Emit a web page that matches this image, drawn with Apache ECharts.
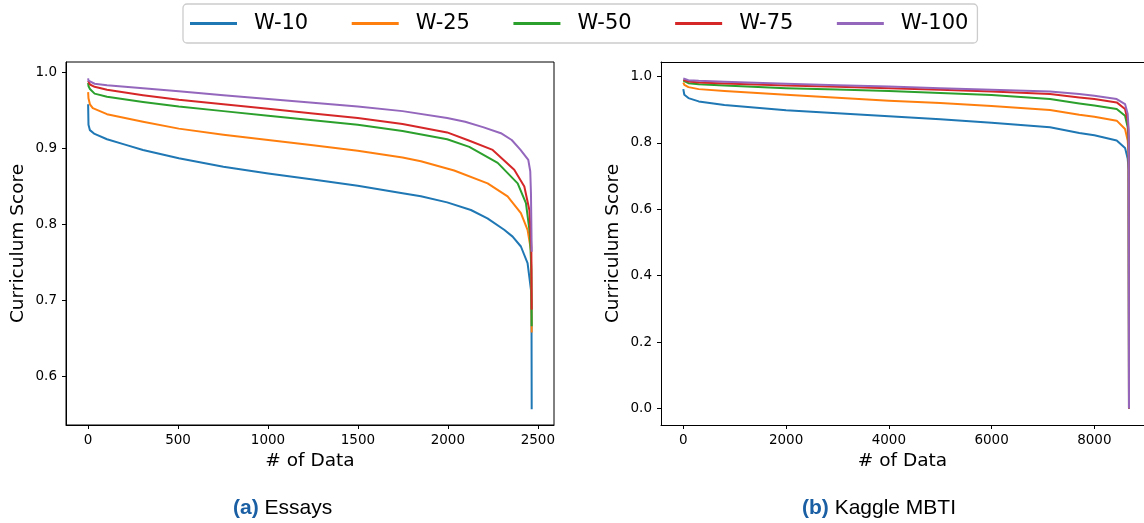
<!DOCTYPE html>
<html>
<head>
<meta charset="utf-8">
<script src="https://cdn.jsdelivr.net/npm/echarts@6/dist/echarts.min.js"></script>
<style>
html,body{margin:0;padding:0;background:#fff;}
#chart{width:1144px;height:523px;}
</style>
</head>
<body>
<div id="chart"></div>
<script>
const seriesNames = ['W-10', 'W-25', 'W-50', 'W-75', 'W-100'];
const colors = ['#1f77b4', '#ff7f0e', '#2ca02c', '#d62728', '#9467bd'];

// (a) Essays: [index, score]
const essaysW10 = [[0,0.958],[2,0.931],[10,0.924],[36,0.919],[105,0.912],[205,0.905],[305,0.898],[504,0.887],[752,0.876],[1001,0.867],[1250,0.859],[1499,0.851],[1748,0.841],[1850,0.837],[1996,0.829],[2128,0.819],[2220,0.808],[2313,0.793],[2360,0.784],[2406,0.771],[2443,0.749],[2462,0.714],[2465,0.68],[2466,0.557]];
const essaysW25 = [[0,0.974],[2,0.966],[10,0.958],[26,0.953],[105,0.945],[205,0.940],[305,0.935],[504,0.926],[752,0.918],[1001,0.911],[1250,0.904],[1499,0.897],[1748,0.888],[1850,0.883],[2035,0.871],[2221,0.854],[2332,0.837],[2406,0.815],[2443,0.793],[2462,0.766],[2466,0.658]];
const essaysW50 = [[0,0.986],[2,0.982],[10,0.978],[36,0.972],[105,0.968],[305,0.961],[504,0.955],[752,0.949],[1001,0.943],[1250,0.937],[1499,0.931],[1748,0.923],[1996,0.912],[2119,0.902],[2277,0.881],[2388,0.854],[2434,0.828],[2456,0.788],[2464,0.74],[2466,0.666]];
const essaysW75 = [[0,0.989],[2,0.987],[10,0.984],[36,0.981],[105,0.977],[305,0.970],[504,0.964],[752,0.958],[1001,0.952],[1250,0.946],[1499,0.940],[1748,0.932],[1996,0.921],[2120,0.910],[2249,0.898],[2369,0.872],[2425,0.850],[2453,0.819],[2464,0.77],[2466,0.688]];
const essaysW100 = [[0,0.992],[2,0.989],[10,0.987],[36,0.985],[105,0.983],[305,0.979],[504,0.975],[752,0.970],[1001,0.965],[1250,0.960],[1499,0.955],[1748,0.949],[1996,0.940],[2096,0.935],[2195,0.928],[2295,0.920],[2355,0.911],[2404,0.898],[2447,0.885],[2458,0.87],[2462,0.84],[2466,0.764]];

// (b) Kaggle MBTI: [index, score]
const mbtiW10 = [[0,0.962],[20,0.945],[100,0.935],[300,0.925],[800,0.914],[2000,0.898],[3000,0.889],[4000,0.880],[5000,0.871],[6000,0.861],[7137,0.847],[7707,0.830],[8000,0.823],[8435,0.807],[8597,0.785],[8649,0.752],[8666,0.72],[8674,0]];
const mbtiW25 = [[0,0.982],[20,0.975],[100,0.968],[300,0.962],[800,0.956],[2000,0.945],[3000,0.936],[4000,0.927],[5000,0.920],[6000,0.911],[7137,0.899],[7707,0.885],[8000,0.879],[8435,0.867],[8597,0.842],[8649,0.807],[8668,0.76],[8674,0]];
const mbtiW50 = [[0,0.988],[20,0.984],[100,0.980],[300,0.977],[800,0.973],[2000,0.965],[3000,0.961],[4000,0.956],[5000,0.950],[6000,0.944],[7137,0.932],[7707,0.919],[8000,0.913],[8435,0.902],[8597,0.882],[8649,0.847],[8668,0.80],[8674,0]];
const mbtiW75 = [[0,0.990],[20,0.988],[100,0.985],[300,0.982],[800,0.979],[2000,0.973],[3000,0.969],[4000,0.965],[5000,0.960],[6000,0.955],[7137,0.947],[7707,0.937],[8000,0.932],[8435,0.922],[8597,0.902],[8649,0.867],[8668,0.82],[8674,0]];
const mbtiW100 = [[0,0.994],[20,0.991],[100,0.989],[300,0.987],[800,0.984],[2000,0.978],[3000,0.974],[4000,0.970],[5000,0.965],[6000,0.960],[7137,0.955],[7707,0.947],[8000,0.942],[8435,0.932],[8597,0.917],[8649,0.887],[8668,0.84],[8674,0]];

const essaysXTicks = [0, 500, 1000, 1500, 2000, 2500];
const essaysYTicks = [0.6, 0.7, 0.8, 0.9, 1.0];
const mbtiXTicks = [0, 2000, 4000, 6000, 8000];
const mbtiYTicks = [0.0, 0.2, 0.4, 0.6, 0.8, 1.0];
const yTitle = 'Curriculum Score';
const xTitle = '# of Data';

const essaysData = [essaysW10, essaysW25, essaysW50, essaysW75, essaysW100];
const mbtiData = [mbtiW10, mbtiW25, mbtiW50, mbtiW75, mbtiW100];

const FONT = 'DejaVu Sans';
function xAxis(gi, min, max, ticks) {
  return {
    type: 'value', gridIndex: gi, min: min, max: max, position: 'bottom',
    name: xTitle, nameLocation: 'middle', nameGap: 19,
    nameTextStyle: { fontFamily: FONT, fontSize: 18.5, color: '#000' },
    axisLine: { show: true, onZero: false, lineStyle: { color: '#000', width: 1 } },
    axisTick: { show: true, customValues: ticks, length: 4, lineStyle: { color: '#000' } },
    axisLabel: { customValues: ticks, margin: 8, fontFamily: FONT, fontSize: 13.5, color: '#000',
      formatter: v => String(Math.round(v)) },
    splitLine: { show: false }
  };
}
function topAxis(gi, min, max) {
  return {
    type: 'value', gridIndex: gi, min: min, max: max, position: 'top',
    axisLine: { show: true, onZero: false, lineStyle: { color: '#000', width: 1 } },
    axisTick: { show: false }, axisLabel: { show: false }, splitLine: { show: false }
  };
}
function yAxis(gi, min, max, ticks) {
  return {
    type: 'value', gridIndex: gi, min: min, max: max,
    name: yTitle, nameLocation: 'middle', nameGap: 38,
    nameTextStyle: { fontFamily: FONT, fontSize: 18.5, color: '#000' },
    axisLine: { show: true, onZero: false, lineStyle: { color: '#000', width: 1 } },
    axisTick: { show: true, customValues: ticks, length: 4, lineStyle: { color: '#000' } },
    axisLabel: { customValues: ticks, margin: 9, fontFamily: FONT, fontSize: 13.5, color: '#000',
      formatter: v => Number(v).toFixed(1) },
    splitLine: { show: false }
  };
}

const series = [];
seriesNames.forEach((n, i) => {
  series.push({ name: n, type: 'line', xAxisIndex: 0, yAxisIndex: 0, data: essaysData[i],
    symbol: 'none', smooth: false, lineStyle: { width: 2, color: colors[i], join: 'round' },
    itemStyle: { color: colors[i] }, z: 2 + i, animation: false });
});
seriesNames.forEach((n, i) => {
  series.push({ name: n, type: 'line', xAxisIndex: 1, yAxisIndex: 1, data: mbtiData[i],
    symbol: 'none', smooth: false, lineStyle: { width: 2, color: colors[i], join: 'round' },
    itemStyle: { color: colors[i] }, z: 2 + i, animation: false });
});

const chart = echarts.init(document.getElementById('chart'), null, { renderer: 'canvas' });
chart.setOption({
  animation: false,
  backgroundColor: '#fff',
  textStyle: { fontFamily: FONT },
  legend: {
    data: seriesNames,
    left: 183, top: 4,
    padding: [7, 9, 7, 7],
    icon: 'rect', itemWidth: 47, itemHeight: 3, itemGap: 43.5,
    textStyle: { fontFamily: FONT, fontSize: 21, color: '#000', lineHeight: 25, padding: [0, 0, 0, 12] },
    borderColor: '#cccccc', borderWidth: 1.3, borderRadius: 4,
    backgroundColor: '#fff'
  },
  grid: [
    { left: 66, width: 488, top: 62, height: 363, show: true, borderColor: '#000', borderWidth: 1, backgroundColor: 'transparent' },
    { left: 661, right: 0, top: 62, height: 363, show: false }
  ],
  xAxis: [ xAxis(0, -123, 2590, essaysXTicks), xAxis(1, -434, 8966, mbtiXTicks), topAxis(1, -434, 8966) ],
  yAxis: [ yAxis(0, 0.5363, 1.0136, essaysYTicks), yAxis(1, -0.0497, 1.0437, mbtiYTicks) ],
  series: series,
  graphic: [
    { type: 'text', left: 233, top: 498, style: {
        text: '{b|(a)} Essays', font: '21px "Liberation Sans"', fill: '#000',
        rich: { b: { fontFamily: 'Liberation Sans', fontSize: 21, fontWeight: 'bold', fill: '#1a5fa3', color: '#1a5fa3' } } } },
    { type: 'text', left: 802, top: 498, style: {
        text: '{b|(b)} Kaggle MBTI', font: '21px "Liberation Sans"', fill: '#000',
        rich: { b: { fontFamily: 'Liberation Sans', fontSize: 21, fontWeight: 'bold', fill: '#1a5fa3', color: '#1a5fa3' } } } }
  ]
});
</script>
</body>
</html>
